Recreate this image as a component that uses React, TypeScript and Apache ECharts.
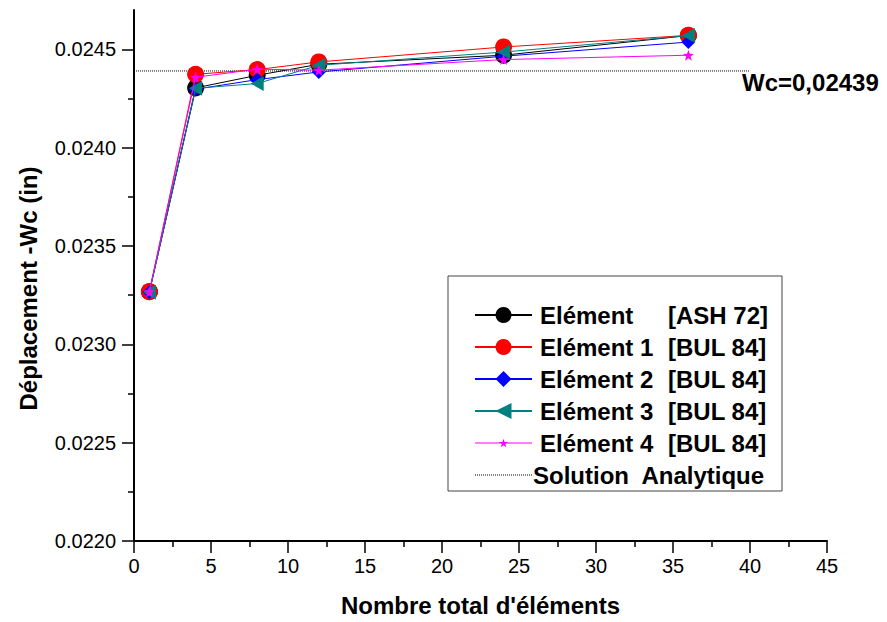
import React, { useEffect, useRef } from 'react';
import * as echarts from 'echarts';

// ---- data ----
const xValues = [1, 4, 8, 12, 24, 36];
const seriesNames = ['Elément', 'Elément 1', 'Elément 2', 'Elément 3', 'Elément 4'];
const seriesRefs = ['[ASH 72]', '[BUL 84]', '[BUL 84]', '[BUL 84]', '[BUL 84]'];
const elem0 = [0.023268, 0.024304, 0.024368, 0.024424, 0.02447, 0.02457];
const elem1 = [0.023268, 0.024373, 0.024397, 0.024436, 0.024512, 0.024571];
const elem2 = [0.023265, 0.024297, 0.024346, 0.024385, 0.024465, 0.024537];
const elem3 = [0.023265, 0.024302, 0.024326, 0.024419, 0.024486, 0.02457];
const elem4 = [0.023268, 0.024358, 0.024399, 0.024394, 0.024448, 0.02447];
const analyticName = 'Solution  Analytique';
const analyticX = [0, 40];
const analyticValue = 0.02439;
const analyticLabel = 'Wc=0,02439';
const yMajorTicks = [0.022, 0.0225, 0.023, 0.0235, 0.024, 0.0245];
const yMinorTicks = [0.02225, 0.02275, 0.02325, 0.02375, 0.02425];
const xAxisName = "Nombre total d'éléments";
const yAxisName = 'Déplacement -Wc (in)';

const FONT = 'Arial, "Liberation Sans", sans-serif';

// star shape (style)
const starPts: [number, number][] = [
  [50, 0], [61.76, 33.82], [97.55, 34.55], [69.02, 56.18], [79.39, 90.45],
  [50, 70], [20.61, 90.45], [30.98, 56.18], [2.45, 34.55], [38.24, 33.82],
];
const starPath = 'path://M' + starPts.map((p) => p[0] + ',' + p[1]).join('L') + 'Z';
const legendStar = (() => {
  const s = 0.095;
  const pts = starPts.map((p) => [28.5 - 4.75 + p[0] * s, 0.5 - 4.3 + p[1] * s]);
  const star = 'M' + pts.map((p) => p[0].toFixed(2) + ',' + p[1].toFixed(2)).join('L') + 'Z';
  return 'path://M0,0L57,0L57,1L0,1Z' + star;
})();
const legendDots = (() => {
  let d = '';
  for (let x = 0; x < 57; x += 2) d += `M${x},0L${x + 1},0L${x + 1},1L${x},1Z`;
  return 'path://' + d;
})();
const leftTriangle = 'path://M0,5L10,0L10,10Z';

const colors = ['#000000', '#ff0000', '#0000ff', '#008080', '#ff00ff'];
const symbols = ['circle', 'circle', 'diamond', leftTriangle, starPath];
const symbolSizes = [17, 17, 14, [13, 15], 11];
const allValues = [elem0, elem1, elem2, elem3, elem4];

export default function App() {
  const ref = useRef<HTMLDivElement>(null);
  useEffect(() => {
    if (!ref.current) return;
    const chart = echarts.init(ref.current, undefined, { renderer: 'svg' });
    const series: any[] = allValues.map((vals, i) => ({
      name: seriesNames[i],
      type: 'line',
      data: xValues.map((x, j) => [x, vals[j]]),
      symbol: symbols[i],
      symbolSize: symbolSizes[i],
      showAllSymbol: true,
      itemStyle: { color: colors[i], borderWidth: 0 },
      lineStyle: { color: colors[i], width: 1 },
      z: 3 + i,
    }));
    series.push({
      name: analyticName,
      type: 'line',
      data: analyticX.map((x) => [x, analyticValue]),
      symbol: 'none',
      itemStyle: { color: '#000' },
      lineStyle: { color: '#000', width: 1, type: 'dotted' },
      endLabel: {
        show: true,
        formatter: analyticLabel,
        offset: [-13, 12],
        distance: 5,
        fontSize: 24,
        fontWeight: 'bold',
        color: '#000',
        fontFamily: FONT,
      },
      z: 2,
    });

    const richBase = { fontSize: 24, fontWeight: 'bold', color: '#000', fontFamily: FONT, lineHeight: 20 };
    chart.setOption({
      animation: false,
      backgroundColor: '#ffffff',
      grid: { left: 134, right: 60, top: 10, bottom: 80 },
      legend: {
        orient: 'vertical',
        left: 448,
        top: 276,
        padding: [27, 12, 4, 26],
        itemWidth: 57,
        itemHeight: 20,
        itemGap: 8,
        borderColor: '#444',
        borderWidth: 1,
        data: [
          ...seriesNames.map((n, i) =>
            i === 4 ? { name: n, icon: legendStar, itemStyle: { borderWidth: 0 } } : { name: n }
          ),
          { name: analyticName, icon: legendDots, itemStyle: { color: '#000', borderWidth: 0 } },
        ],
        formatter: (name: string) => {
          const i = seriesNames.indexOf(name);
          if (i < 0) return `{c|${name}}`;
          return `{a|${name}}{b|${seriesRefs[i]}}`;
        },
        textStyle: {
          ...richBase,
          rich: {
            a: { ...richBase, width: 128, padding: [0, 0, 0, 3] },
            b: { ...richBase, width: 102 },
            c: { ...richBase, padding: [0, 0, 0, -4] },
          },
        },
      },
      xAxis: {
        type: 'value',
        min: 0,
        max: 45,
        interval: 5,
        name: xAxisName,
        nameLocation: 'middle',
        nameGap: 52,
        nameTextStyle: { fontSize: 24, fontWeight: 'bold', color: '#000', fontFamily: FONT },
        axisLine: { show: true, onZero: false, lineStyle: { color: '#000', width: 2 } },
        axisTick: { show: true, length: 12, inside: false, lineStyle: { color: '#000', width: 1.5 } },
        minorTick: { show: true, splitNumber: 2, length: 6, lineStyle: { color: '#000', width: 1.5 } },
        axisLabel: { fontSize: 20, color: '#000', margin: 15, fontFamily: FONT },
        splitLine: { show: false },
        minorSplitLine: { show: false },
      },
      yAxis: [
        {
          type: 'value',
          position: 'left',
          min: 0.022,
          max: 0.0247,
          interval: 0.0005,
          name: yAxisName,
          nameLocation: 'middle',
          nameGap: 94,
          nameTextStyle: {
            fontSize: 24,
            fontWeight: 'bold',
            color: '#000',
            fontFamily: FONT,
            padding: [0, 26, 0, 0],
          },
          axisLine: { show: true, onZero: false, lineStyle: { color: '#000', width: 2 } },
          axisTick: {
            show: true,
            length: 12,
            customValues: yMajorTicks,
            lineStyle: { color: '#000', width: 1.5 },
          },
          axisLabel: {
            customValues: yMajorTicks,
            fontSize: 20,
            color: '#000',
            margin: 18,
            fontFamily: FONT,
            formatter: (v: number) => v.toFixed(4),
          },
          splitLine: { show: false },
        },
        {
          type: 'value',
          position: 'left',
          min: 0.022,
          max: 0.0247,
          interval: 0.0005,
          axisLine: { show: false },
          axisTick: {
            show: true,
            length: 6,
            customValues: yMinorTicks,
            lineStyle: { color: '#000', width: 1.5 },
          },
          axisLabel: { show: false },
          splitLine: { show: false },
        },
      ],
      series,
    });
    return () => chart.dispose();
  }, []);
  return (
    <div
      ref={ref}
      style={{ position: 'fixed', left: 0, top: 0, width: 887, height: 622 }}
    />
  );
}
